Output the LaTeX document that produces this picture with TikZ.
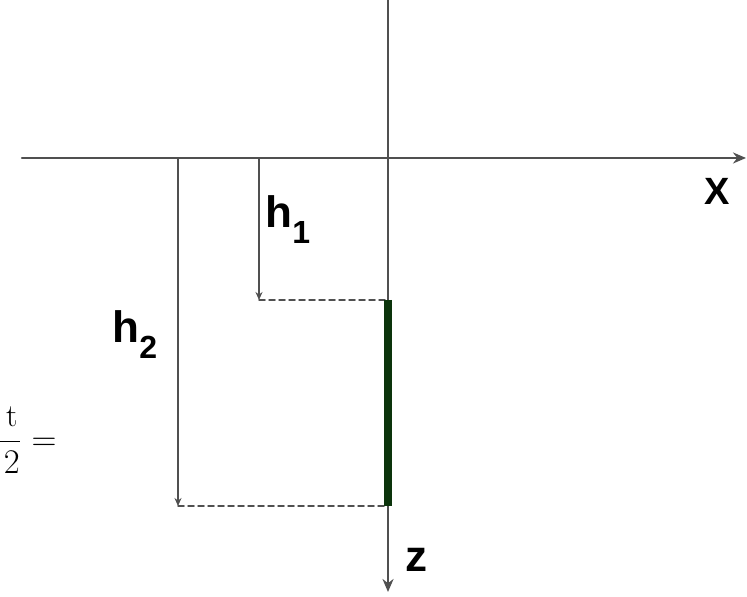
\documentclass[tikz,border=0pt]{standalone}
\usepackage{amsmath}
\usepackage{fontspec}
\setsansfont{Liberation Sans}
\usetikzlibrary{arrows.meta}
\definecolor{grisEje}{RGB}{80,80,80}
\definecolor{verdeBarra}{RGB}{12,52,12}
\newcommand{\letrasub}[2]{#1\lower8pt\hbox{\fontsize{16}{16}\selectfont #2}}
\tikzset{
  ejes/.style={draw=grisEje, line width=1.1pt, -{Stealth[length=6.5pt, width=5.5pt, fill=black]}},
  altura/.style={draw=grisEje, line width=0.75pt, -{Stealth[length=4pt, width=3.5pt]}},
  guia/.style={draw=grisEje, line width=0.75pt, dash pattern=on 3pt off 2pt},
  rotulo/.style={font=\sffamily\bfseries\fontsize{22}{26}\selectfont, inner sep=0pt}
}
\begin{document}
\begin{tikzpicture}[x=0.5pt, y=-0.5pt, line cap=round, line join=round]
  \useasboundingbox (0,0) rectangle (747,597);
  % los ejes
  \coordinate (xini) at (22,158);
  \coordinate (xfin) at (746,158);
  \coordinate (ztop) at (388,0);
  \coordinate (zfin) at (388,592);
  \draw[ejes] (xini) -- (xfin);
  \draw[ejes] (ztop) -- (zfin);
  % las dos alturas, con su linea de guia
  \foreach \n/\x/\y in {one/259/300, two/178/506} {
    \coordinate (a\n) at (\x,158);
    \coordinate (b\n) at (\x,\y);
    \coordinate (c\n) at (388,\y);
    \draw[altura] (a\n) -- (b\n);
    \draw[guia] (b\n) -- (c\n);
  }
  % la barra
  \draw[draw=verdeBarra, line width=4pt, line cap=butt] (cone) -- (ctwo);
  % rotulos
  \node[rotulo, anchor=base west] (hone) at (265,228) {\letrasub{h}{1}};
  \node[rotulo, anchor=base west] (htwo) at (112,343) {\letrasub{h}{2}};
  \node[rotulo, font=\sffamily\bfseries\fontsize{19}{22}\selectfont] (xlab) at (717,191) {X};
  \node[rotulo] (zlab) at (416,560) {z};
  \node[anchor=base east, inner sep=0pt, font=\fontsize{16}{19}\selectfont] (frac) at (57,450)
    {$\dfrac{\hspace{1.6em}\mathrm{t}}{\hspace{1.6em}2}=$};
\end{tikzpicture}
\end{document}
